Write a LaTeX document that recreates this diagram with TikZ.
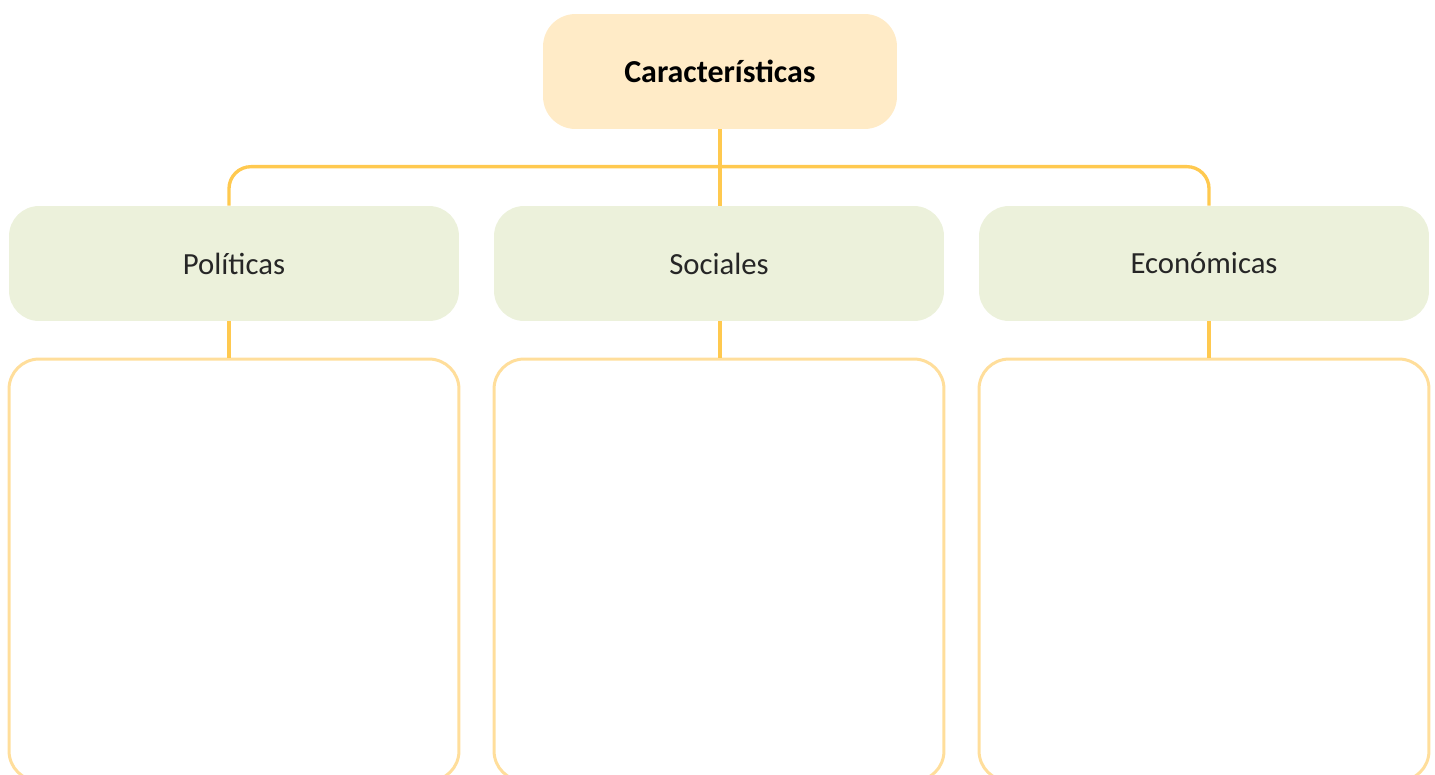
\documentclass[tikz,border=0pt]{standalone}
\usepackage{fontspec}
\setmainfont{Carlito}
\usepackage{xcolor}
\usetikzlibrary{positioning,calc}
\definecolor{headfill}{HTML}{FFEBC7}
\definecolor{catfill}{HTML}{ECF1DB}
\definecolor{linkcol}{HTML}{FFC94F}
\definecolor{boxcol}{HTML}{FFDE9B}
\begin{document}
\begin{tikzpicture}[x=0.02cm,y=-0.02cm,
  head/.style={fill=headfill,rounded corners=6.5mm,minimum width=70.8mm,minimum height=23mm,
    font=\fontsize{18.2}{20}\selectfont\bfseries},
  cat/.style={fill=catfill,rounded corners=6mm,minimum width=90mm,minimum height=23mm,
    font=\fontsize{17.5}{20}\selectfont,text=black!85},
  slot/.style={draw=boxcol,line width=1.7pt,rounded corners=6mm,minimum width=90mm,minimum height=84.4mm},
  link/.style={draw=linkcol,line width=1.9pt}]
  \clip (0,0) rectangle (1435,774);
  \node[head] (car) at (720,71.5) {Características};
  \node[cat] (pol) at (234,263.5) {Políticas};
  \node[cat] (soc) at (719,263.5) {Sociales};
  \node[cat] (eco) at (1204,263.5) {Económicas};
  \node[slot] (bpol) at (234,570) {};
  \node[slot] (bsoc) at (719,570) {};
  \node[slot] (beco) at (1204,570) {};
  \draw[link] (car) -- (car |- soc.north);
  \draw[link,rounded corners=4.4mm] ([xshift=-1mm]pol.north) -- ++(0,-39) -| ([xshift=1mm]eco.north);
  \draw[link] ([xshift=-1mm]pol.south) -- ([xshift=-1mm]bpol.north);
  \draw[link] ([xshift=0.2mm]soc.south) -- ([xshift=0.2mm]bsoc.north);
  \draw[link] ([xshift=1mm]eco.south) -- ([xshift=1mm]beco.north);
\end{tikzpicture}
\end{document}
